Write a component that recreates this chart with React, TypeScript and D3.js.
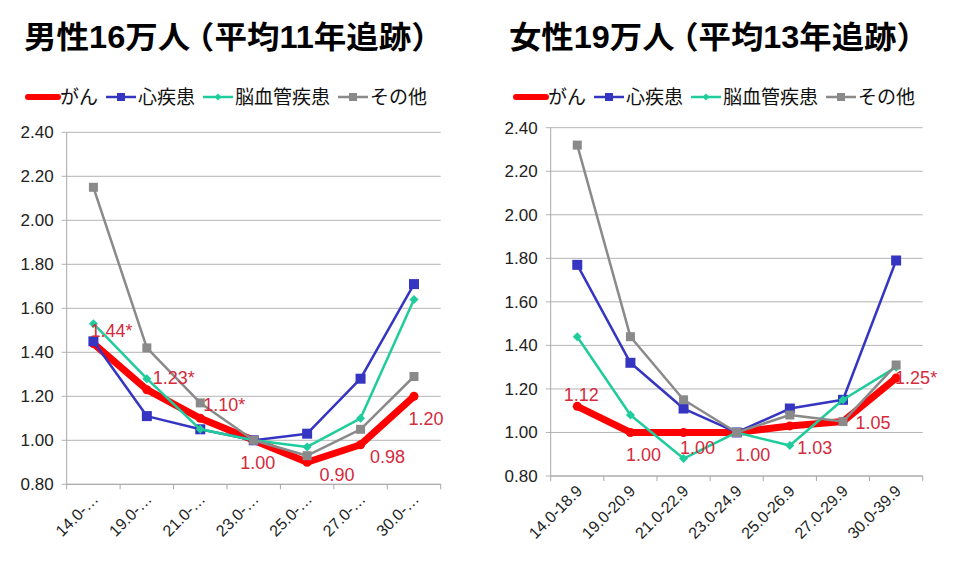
import React, { useLayoutEffect, useRef, useState } from 'react';
import * as d3 from 'd3';

// BMI categories
const femaleCategories = ['14.0-18.9', '19.0-20.9', '21.0-22.9', '23.0-24.9', '25.0-26.9', '27.0-29.9', '30.0-39.9'];
const maleTickLabels = ['14.0-…', '19.0-…', '21.0-…', '23.0-…', '25.0-…', '27.0-…', '30.0-…'];

const seriesNames = ['がん', '心疾患', '脳血管疾患', 'その他'];

// 男性
const maleCancer = [1.44, 1.23, 1.10, 1.00, 0.90, 0.98, 1.20];
const maleHeart = [1.45, 1.11, 1.05, 1.00, 1.03, 1.28, 1.71];
const maleStroke = [1.53, 1.28, 1.05, 1.00, 0.97, 1.10, 1.64];
const maleOther = [2.15, 1.42, 1.17, 1.00, 0.93, 1.05, 1.29];
const maleLabels = ['1.44*', '1.23*', '1.10*', '1.00', '0.90', '0.98', '1.20'];

// 女性
const femaleCancer = [1.12, 1.00, 1.00, 1.00, 1.03, 1.05, 1.25];
const femaleHeart = [1.77, 1.32, 1.11, 1.00, 1.11, 1.15, 1.79];
const femaleStroke = [1.44, 1.08, 0.88, 1.00, 0.94, 1.15, 1.30];
const femaleOther = [2.32, 1.44, 1.15, 1.00, 1.08, 1.05, 1.31];
const femaleLabels = ['1.12', '1.00', '1.00', '1.00', '1.03', '1.05', '1.25*'];

const yTicks = [0.8, 1.0, 1.2, 1.4, 1.6, 1.8, 2.0, 2.2, 2.4];

// label offsets from the cancer point (label centre)
const maleLabelOffsets = [[18, -13], [27, -12], [24, -14], [4, 22], [30, 12], [27, 12], [12, 22]];
const femaleLabelOffsets = [[4, -12], [13, 22], [14, 15], [16, 22], [25, 22], [30, 1], [20, 0]];

const styles = [
  { color: '#ff0000', width: 7, marker: 'circle', size: 4.5 },
  { color: '#3535c2', width: 2.5, marker: 'square', size: 10 },
  { color: '#1fcc9c', width: 2.5, marker: 'diamond', size: 4.5 },
  { color: '#8a8a8a', width: 2.5, marker: 'square', size: 9 },
];

const latin = '"Liberation Sans", Arial, sans-serif';
const jp = '"Liberation Sans", "Noto Sans CJK JP", sans-serif';

function Marker({ x, y, s }: { x: number; y: number; s: any }) {
  if (s.marker === 'circle') return <circle cx={x} cy={y} r={s.size} fill={s.color} />;
  if (s.marker === 'square')
    return <rect x={x - s.size / 2} y={y - s.size / 2} width={s.size} height={s.size} fill={s.color} />;
  const r = s.size;
  return <path d={`M${x},${y - r}L${x + r},${y}L${x},${y + r}L${x - r},${y}Z`} fill={s.color} />;
}

// title text stretched to the width it has in the original
function Title({ x, y, width, text }: { x: number; y: number; width: number; text: string }) {
  const ref = useRef<SVGTextElement>(null);
  const [k, setK] = useState(1);
  useLayoutEffect(() => {
    if (!ref.current) return;
    const w = ref.current.getBBox().width;
    if (w > 0) setK(width / w);
  }, [text, width]);
  const cut = text.indexOf('（');
  return (
    <g transform={`translate(${x},${y}) scale(${k},1)`}>
      <text ref={ref} x={0} y={0} fontFamily={jp} fontWeight="bold" fontSize={31} fill="#000">
        <tspan>{text.slice(0, cut)}</tspan>
        <tspan dx={-8}>{text.slice(cut)}</tspan>
      </text>
    </g>
  );
}

interface PanelProps {
  title: string;
  titleX: number;
  legendX: number;
  x0: number;
  x1: number;
  yTop: number;
  yBottom: number;
  tickLabels: string[];
  series: number[][];
  labels: string[];
  offsets: number[][];
}

function Panel(p: PanelProps) {
  const x = d3.scaleBand<string>().domain(p.tickLabels).range([p.x0, p.x1]).padding(0);
  const y = d3.scaleLinear().domain([0.8, 2.4]).range([p.yBottom, p.yTop]);
  const cx = (i: number) => (x(p.tickLabels[i]) || 0) + x.bandwidth() / 2;
  const line = d3.line<number>().x((d, i) => cx(i)).y(d => y(d));
  const fmt = d3.format('.2f');
  const bounds = p.tickLabels.map(c => x(c) || 0).concat([p.x1]);

  // legend layout
  const fs = 19;
  let lx = p.legendX;
  const legendItems = seriesNames.map((name, i) => {
    const item = { x: lx, name, s: styles[i] };
    lx += 30 + 2 + name.length * fs + 8;
    return item;
  });

  return (
    <g>
      <Title x={p.titleX} y={48} width={420} text={p.title} />
      {legendItems.map((it, i) => (
        <g key={i}>
          <line x1={it.x} x2={it.x + 30} y1={97} y2={97} stroke={it.s.color}
            strokeWidth={i === 0 ? 6 : 2.5} strokeLinecap={i === 0 ? 'round' : 'butt'} />
          <Marker x={it.x + 15} y={97} s={{ ...it.s, size: i === 0 ? 3 : it.s.marker === 'diamond' ? 3.5 : 8 }} />
          <text x={it.x + 32} y={103.5} fontFamily={jp} fontSize={fs} fill="#111">{it.name}</text>
        </g>
      ))}
      {yTicks.map(t => (
        <g key={t}>
          <line x1={p.x0 - 5} x2={p.x1} y1={y(t)} y2={y(t)} stroke="#b5b5b5" strokeWidth={1} />
          <text x={p.x0 - 13} y={y(t)} dy="0.35em" textAnchor="end" fontFamily={latin} fontSize={17} fill="#222">{fmt(t)}</text>
        </g>
      ))}
      <line x1={p.x0} x2={p.x0} y1={p.yTop} y2={p.yBottom} stroke="#a8a8a8" />
      <line x1={p.x0} x2={p.x1} y1={p.yBottom} y2={p.yBottom} stroke="#a8a8a8" />
      {bounds.map((b, i) => (
        <line key={i} x1={b} x2={b} y1={p.yBottom} y2={p.yBottom + 5} stroke="#a8a8a8" />
      ))}
      {p.tickLabels.map((c, i) => (
        <text key={c} transform={`translate(${cx(i) + 6},${p.yBottom + 16}) rotate(-45)`} textAnchor="end"
          fontFamily={latin} fontSize={16} fill="#222">{c}</text>
      ))}
      {p.series.map((vals, si) => (
        <g key={si}>
          <path d={line(vals) || ''} fill="none" stroke={styles[si].color} strokeWidth={styles[si].width}
            strokeLinejoin="round" strokeLinecap="round" />
          {vals.map((v, i) => <Marker key={i} x={cx(i)} y={y(v)} s={styles[si]} />)}
        </g>
      ))}
      {p.labels.map((l, i) => (
        <text key={i} x={cx(i) + p.offsets[i][0]} y={y(p.series[0][i]) + p.offsets[i][1]} dy="0.35em"
          textAnchor="middle" fontFamily={latin} fontSize={18} fill="#d42a3c">{l}</text>
      ))}
    </g>
  );
}

export default function App() {
  return (
    <svg width={953} height={580} style={{ position: 'absolute', left: 0, top: 0, background: '#fff' }}>
      <rect width={953} height={580} fill="#fff" />
      <Panel title="男性16万人（平均11年追跡）" titleX={24} legendX={28} x0={66.7} x1={440.7} yTop={132.3} yBottom={484.3}
        tickLabels={maleTickLabels} series={[maleCancer, maleHeart, maleStroke, maleOther]} labels={maleLabels} offsets={maleLabelOffsets} />
      <Panel title="女性19万人（平均13年追跡）" titleX={509} legendX={516} x0={550.7} x1={922.7} yTop={127.7} yBottom={476}
        tickLabels={femaleCategories} series={[femaleCancer, femaleHeart, femaleStroke, femaleOther]} labels={femaleLabels} offsets={femaleLabelOffsets} />
    </svg>
  );
}
